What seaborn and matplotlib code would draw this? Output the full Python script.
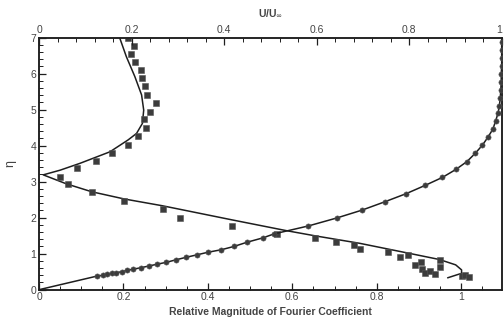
import numpy as np
import pandas as pd
import matplotlib
matplotlib.use("Agg")
import matplotlib.pyplot as plt
from matplotlib.ticker import MultipleLocator, FixedLocator
import seaborn as sns

# Fourier coefficient magnitude (bottom axis) vs eta: measured points
fourier_mag = [0.210, 0.225, 0.217, 0.227, 0.241, 0.244, 0.251, 0.255, 0.277, 0.264,
               0.249, 0.253, 0.234, 0.210, 0.172, 0.134, 0.089, 0.050, 0.068, 0.125,
               0.202, 0.293, 0.334, 0.457, 0.563, 0.654, 0.704, 0.745, 0.761, 0.826,
               0.856, 0.873, 0.890, 0.905, 0.907, 0.915, 0.927, 0.937, 0.949, 0.949,
               1.001, 1.009, 1.018]
fourier_eta = [7.00, 6.78, 6.56, 6.33, 6.09, 5.87, 5.65, 5.42, 5.19, 4.94,
               4.74, 4.48, 4.26, 4.03, 3.81, 3.58, 3.37, 3.14, 2.93, 2.70,
               2.47, 2.23, 2.00, 1.78, 1.55, 1.43, 1.33, 1.23, 1.14, 1.06,
               0.90, 0.96, 0.68, 0.78, 0.57, 0.47, 0.53, 0.44, 0.62, 0.83,
               0.38, 0.40, 0.35]

# Fourier coefficient magnitude: theory curve
theory_mag = [0.191, 0.207, 0.227, 0.243, 0.248, 0.245, 0.231, 0.211, 0.168, 0.097,
              0.050, 0.010, 0.065, 0.125, 0.202, 0.293, 0.457, 0.586, 0.657, 0.759,
              0.877, 0.948, 0.987, 1.001, 1.001, 0.968]
theory_eta = [7.00, 6.47, 5.92, 5.41, 4.99, 4.62, 4.34, 4.16, 3.83, 3.51,
              3.32, 3.19, 2.94, 2.72, 2.52, 2.33, 1.94, 1.64, 1.49, 1.29,
              1.01, 0.84, 0.69, 0.55, 0.455, 0.33]

# Mean velocity profile U/U_inf (top axis) vs eta
vel_ratio = [0.126, 0.138, 0.148, 0.157, 0.166, 0.179, 0.191, 0.204, 0.220, 0.238,
             0.256, 0.275, 0.296, 0.318, 0.342, 0.365, 0.394, 0.421, 0.450, 0.484,
             0.508, 0.582, 0.643, 0.698, 0.747, 0.794, 0.835, 0.872, 0.901, 0.925,
             0.943, 0.958, 0.970, 0.981, 0.987, 0.992, 0.995, 0.997, 0.998, 0.999,
             0.999, 1.000, 1.000, 1.000, 1.000]
vel_eta = [0.38, 0.40, 0.43, 0.45, 0.47, 0.50, 0.54, 0.57, 0.61, 0.66,
           0.71, 0.76, 0.83, 0.90, 0.97, 1.04, 1.11, 1.20, 1.32, 1.44,
           1.55, 1.77, 1.99, 2.21, 2.44, 2.67, 2.90, 3.12, 3.34, 3.56,
           3.79, 4.01, 4.23, 4.46, 4.69, 4.90, 5.11, 5.33, 5.55, 5.77,
           5.99, 6.21, 6.43, 6.65, 6.87]

tick_vals = [0, 0.2, 0.4, 0.6, 0.8, 1.0]
tick_text = ["0", "0.2", "0.4", "0.6", "0.8", "1"]

sns.set_style("ticks")
plt.rcParams["font.family"] = ["Liberation Sans", "DejaVu Sans"]

mark_col = "#3c3c3c"
line_col = "#1e1e1e"
text_col = "#444444"

fig = plt.figure(figsize=(5.04, 3.20), dpi=100)
ax = fig.add_axes([0.0774, 0.0947, 0.9180, 0.7875])

df_sq = pd.DataFrame({"mag": fourier_mag, "eta": fourier_eta})
df_th = pd.DataFrame({"mag": theory_mag, "eta": theory_eta})
sns.lineplot(data=df_th, x="mag", y="eta", sort=False, estimator=None,
             color=line_col, linewidth=1.1, ax=ax)
sns.scatterplot(data=df_sq, x="mag", y="eta", marker="s", s=15,
                color=mark_col, edgecolor="#555555", linewidth=0.4, ax=ax, zorder=3)

ax.set_xlim(0, 1.096)
ax.set_ylim(0, 7)
ax.xaxis.set_major_locator(FixedLocator(tick_vals))
ax.set_xticklabels(tick_text)
ax.xaxis.set_minor_locator(MultipleLocator(0.05))
ax.yaxis.set_major_locator(MultipleLocator(1))
ax.yaxis.set_minor_locator(MultipleLocator(0.2))
ax.tick_params(which="both", direction="in", colors=line_col, labelcolor=text_col,
               labelsize=7.5, pad=2)
ax.tick_params(which="major", length=5, width=0.9)
ax.tick_params(which="minor", length=3, width=0.7)
ax.set_xlabel("Relative Magnitude of Fourier Coefficient", fontsize=7.5,
              fontweight="bold", color=text_col, labelpad=3)
ax.set_ylabel("η", fontsize=9, color=text_col, labelpad=10)

ax2 = ax.twiny()
line_u = [0.0] + vel_ratio + [1.0]
line_eta = [0.0] + vel_eta + [7.0]
df_vl = pd.DataFrame({"u": line_u, "eta": line_eta})
df_vp = pd.DataFrame({"u": vel_ratio, "eta": vel_eta})
sns.lineplot(data=df_vl, x="u", y="eta", sort=False, estimator=None,
             color=line_col, linewidth=1.1, ax=ax2)
sns.scatterplot(data=df_vp, x="u", y="eta", marker="o", s=14,
                color=mark_col, edgecolor="#555555", linewidth=0.4, ax=ax2, zorder=3)
ax2.set_xlim(0, 1.0)
ax2.set_ylim(0, 7)
ax2.xaxis.set_major_locator(FixedLocator(tick_vals))
ax2.set_xticklabels(tick_text)
ax2.get_xticklabels()[-1].set_horizontalalignment("right")
ax2.xaxis.set_minor_locator(MultipleLocator(0.04))
ax2.tick_params(which="both", direction="in", colors=line_col, labelcolor=text_col,
                labelsize=7.5, pad=2)
ax2.tick_params(which="major", length=5, width=0.9)
ax2.tick_params(which="minor", length=3, width=0.7)
ax2.set_xlabel(r"U/U$_\infty$", fontsize=7.5, fontweight="bold", color=text_col,
               labelpad=6)
ax2.set_ylabel("")

for a in (ax, ax2):
    for sp in a.spines.values():
        sp.set_visible(True)
        sp.set_linewidth(1.1)
        sp.set_color(line_col)

fig.savefig("out.png", dpi=100)
